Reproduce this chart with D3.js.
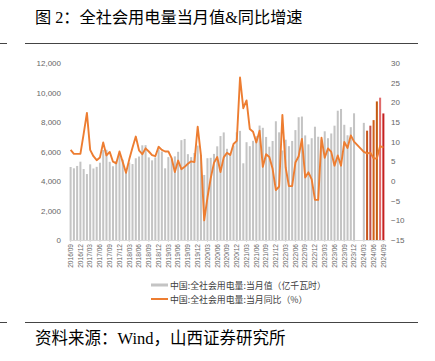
<!DOCTYPE html>
<html>
<head>
<meta charset="utf-8">
<script src="https://cdn.jsdelivr.net/npm/d3@7/dist/d3.min.js"></script>
<style>
	body { margin: 0; background: #fff; }
	svg { display: block; }
</style>
</head>
<body>
<div id="chart"></div>
<script>
// months shown on the category axis
var months = [
	"2016/09","2016/10","2016/11","2016/12",
	"2017/01","2017/02","2017/03","2017/04","2017/05","2017/06","2017/07","2017/08","2017/09","2017/10","2017/11","2017/12",
	"2018/01","2018/02","2018/03","2018/04","2018/05","2018/06","2018/07","2018/08","2018/09","2018/10","2018/11","2018/12",
	"2019/01","2019/02","2019/03","2019/04","2019/05","2019/06","2019/07","2019/08","2019/09","2019/10","2019/11","2019/12",
	"2020/01","2020/02","2020/03","2020/04","2020/05","2020/06","2020/07","2020/08","2020/09","2020/10","2020/11","2020/12",
	"2021/01","2021/02","2021/03","2021/04","2021/05","2021/06","2021/07","2021/08","2021/09","2021/10","2021/11","2021/12",
	"2022/01","2022/02","2022/03","2022/04","2022/05","2022/06","2022/07","2022/08","2022/09","2022/10","2022/11","2022/12",
	"2023/01","2023/02","2023/03","2023/04","2023/05","2023/06","2023/07","2023/08","2023/09","2023/10","2023/11","2023/12",
	"2024/01","2024/02","2024/03","2024/04","2024/05","2024/06","2024/07","2024/08","2024/09"
];

// 当月值 (亿千瓦时)
var monthValue = [
	4950, 4860, 5020, 5310,
	4810, 4470, 5130, 4850, 4960, 5240, 6100, 6120, 5300, 5000, 5350, 5900,
	5450, 4600, 5250, 5150, 5540, 5660, 6420, 6430, 5600, 5400, 5600, 6150,
	6000, 4860, 5620, 5530, 5670, 5980, 6770, 6850, 5820, 5620, 5900, 6400,
	5760, 4410, 5545, 5572, 5838, 6350, 7047, 7294, 6183, 5907, 6400, 7300,
	7400, 5200, 6631, 6361, 6724, 7033, 7758, 7607, 6987, 6325, 6712, 8050,
	7300, 6070, 6800, 6362, 6716, 7451, 8324, 8370, 7092, 6484, 6900, 7680,
	7000, 6800, 7370, 6900, 7222, 7751, 8765, 8884, 7811, 7100, 7650, 8590,
	null, null, 7942, 7412, 7751, 8127, 9396, 9649, 8580
];

// 当月同比 (%)
var yoyValue = [
	7.9, 6.9, 6.9, 6.9,
	12.0, 17.3, 7.9, 6.3, 5.3, 6.0, 9.8, 6.5, 7.4, 4.9, 4.5, 7.5,
	4.8, 2.1, 5.5, 8.5, 11.3, 7.8, 6.8, 8.3, 7.5, 6.6, 6.3, 8.7,
	7.9, 7.5, 7.5, 5.8, 2.3, 5.2, 3.0, 3.6, 4.4, 5.0, 4.8, 13.8,
	6.6, -10.0, -4.2, 0.7, 4.6, 6.1, 2.3, 6.0, 7.2, 6.6, 9.4, 10.2,
	26.3, 18.5, 20.5, 13.2, 12.5, 9.8, 12.8, 3.6, 6.8, 6.1, 3.1, -2.3,
	-1.4, 16.8, 3.5, -1.3, -1.3, 4.7, 6.3, 10.7, 0.9, 2.2, 0.4, -4.8,
	-4.8, 11.0, 5.9, 8.3, 7.4, 3.9, 6.5, 3.9, 9.9, 8.4, 11.6, 10.0,
	null, null, 7.4, 7.0, 7.2, 5.8, 5.7, 8.9, 8.5
];

// 2024 bars drawn in warm colours
var highlightMonths = ["2024/04", "2024/05", "2024/06", "2024/07", "2024/08", "2024/09"];
var highlightColors = ["#c8561c", "#c0504d", "#d2601a", "#c55a11", "#e06a6a", "#c62020"];

var leftTicks = [0, 2000, 4000, 6000, 8000, 10000, 12000];
var rightTicks = [-15, -10, -5, 0, 5, 10, 15, 20, 25, 30];

var legendLabels = ["中国:全社会用电量:当月值（亿千瓦时）", "中国:全社会用电量:当月同比（%）"];

(function() {
	var W = 435, H = 361;
	var PLOT_LEFT = 69, PLOT_RIGHT = 385, PLOT_TOP = 63, PLOT_BOTTOM = 240;
	var BAR_GREY = "#c4c4c4";
	var LINE_ORANGE = "#ed7d31";
	var AXIS_FONT = "'Liberation Sans', Arial, sans-serif";
	var CJK_FONT = "'Noto Sans CJK SC', sans-serif";
	var SERIF_CJK = "'Liberation Serif', 'Noto Sans CJK SC', serif";

	var svg = d3.select("#chart").append("svg")
		.attr("width", W)
		.attr("height", H);

	// title and rules
	svg.append("text")
		.attr("x", 35)
		.attr("y", 23)
		.style("font-family", SERIF_CJK)
		.style("font-size", "16.2px")
		.style("fill", "#000")
		.text("图 2：全社会用电量当月值&同比增速");

	[43.5, 322.5].forEach(function(y) {
		svg.append("line").attr("x1", 0).attr("x2", 7).attr("y1", y).attr("y2", y)
			.style("stroke", "#444").style("stroke-width", 1);
		svg.append("line").attr("x1", 25).attr("x2", 418).attr("y1", y).attr("y2", y)
			.style("stroke", "#444").style("stroke-width", 1);
	});

	svg.append("text")
		.attr("x", 35)
		.attr("y", 344)
		.style("font-family", SERIF_CJK)
		.style("font-size", "16.5px")
		.style("fill", "#000")
		.text("资料来源：Wind，山西证券研究所");

	// scales
	var x = d3.scaleBand()
		.domain(months)
		.range([PLOT_LEFT, PLOT_RIGHT]);

	var yLeft = d3.scaleLinear()
		.domain([0, 12000])
		.range([PLOT_BOTTOM, PLOT_TOP]);

	var yRight = d3.scaleLinear()
		.domain([-15, 30])
		.range([PLOT_BOTTOM, PLOT_TOP]);

	var barWidth = x.bandwidth() * 0.62;

	// bars
	var barData = months.map(function(m, i) { return { month: m, value: monthValue[i] }; })
		.filter(function(d) { return d.value !== null; });

	svg.append("g").selectAll("rect")
		.data(barData)
		.enter().append("rect")
		.attr("x", function(d) { return x(d.month) + (x.bandwidth() - barWidth) / 2; })
		.attr("y", function(d) { return yLeft(d.value); })
		.attr("width", barWidth)
		.attr("height", function(d) { return yLeft(0) - yLeft(d.value); })
		.style("fill", function(d) {
			var k = highlightMonths.indexOf(d.month);
			return k < 0 ? BAR_GREY : highlightColors[k];
		});

	// axes
	var leftAxis = svg.append("g")
		.attr("transform", "translate(" + PLOT_LEFT + ",0)")
		.call(d3.axisLeft(yLeft).tickValues(leftTicks).tickSize(0).tickPadding(8).tickFormat(d3.format(",")));

	var rightAxis = svg.append("g")
		.attr("transform", "translate(" + PLOT_RIGHT + ",0)")
		.call(d3.axisRight(yRight).tickValues(rightTicks).tickSize(0).tickPadding(6));

	[leftAxis, rightAxis].forEach(function(g) {
		g.select(".domain").remove();
		g.selectAll("text")
			.style("font-family", AXIS_FONT)
			.style("font-size", "8px")
			.style("fill", "#666");
	});

	var bottomAxis = svg.append("g")
		.attr("transform", "translate(0," + PLOT_BOTTOM + ")")
		.call(d3.axisBottom(x)
			.tickValues(months.filter(function(d, i) { return i % 3 === 0; }))
			.tickSize(2)
			.tickSizeOuter(0));

	bottomAxis.select(".domain").style("stroke", "#d9d9d9");
	bottomAxis.selectAll(".tick line").style("stroke", "#d9d9d9");
	bottomAxis.selectAll("text")
		.attr("transform", "rotate(-90)")
		.attr("x", -4)
		.attr("y", 0)
		.attr("dy", "0.35em")
		.style("text-anchor", "end")
		.style("font-family", AXIS_FONT)
		.style("font-size", "6.6px")
		.style("fill", "#666");

	// yoy line (gaps bridged)
	var lineData = months.map(function(m, i) { return { month: m, value: yoyValue[i] }; })
		.filter(function(d) { return d.value !== null; });

	var line = d3.line()
		.x(function(d) { return x(d.month) + x.bandwidth() / 2; })
		.y(function(d) { return yRight(d.value); });

	svg.append("path")
		.datum(lineData)
		.attr("d", line)
		.style("fill", "none")
		.style("stroke", LINE_ORANGE)
		.style("stroke-width", 1.9)
		.style("stroke-linejoin", "round");

	// legend
	var legend = svg.append("g").attr("transform", "translate(151,0)");
	legend.append("rect")
		.attr("x", 0).attr("y", 283.5).attr("width", 17).attr("height", 3)
		.style("fill", BAR_GREY);
	legend.append("line")
		.attr("x1", 0).attr("x2", 17).attr("y1", 299).attr("y2", 299)
		.style("stroke", LINE_ORANGE).style("stroke-width", 2);

	legend.selectAll("text.lg")
		.data(legendLabels)
		.enter().append("text")
		.attr("class", "lg")
		.attr("x", 19)
		.attr("y", function(d, i) { return 288.5 + i * 14; })
		.style("font-family", CJK_FONT)
		.style("font-size", "8.9px")
		.style("fill", "#404040")
		.text(function(d) { return d; });
}());
</script>
</body>
</html>
